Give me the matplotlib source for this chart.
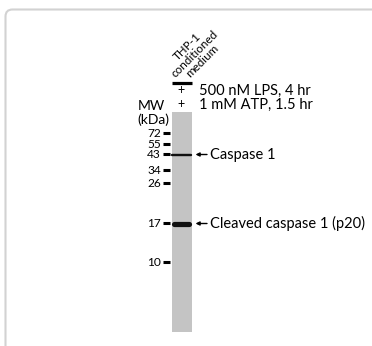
import matplotlib.pyplot as plt
from matplotlib.patches import Rectangle, FancyBboxPatch

mw_labels = ['72', '55', '43', '34', '26', '17', '10']
mw_y = [133, 144, 154, 170, 183, 223, 262]          # ladder positions (px from top)

band_names = ['Caspase 1', 'Cleaved caspase 1 (p20)']
band_y = [154.5, 223.5]
band_x0 = [172, 174]
band_x1 = [191, 189]
band_thick = [2.4, 5.2]

treat_labels = ['500 nM LPS, 4 hr', '1 mM ATP, 1.5 hr']
treat_signs = ['+', '+']
treat_y = [91, 105]

sample_label = 'THP-1\nconditioned\nmedium'

W, H = 372, 346
FONT = 'Lato'

fig = plt.figure(figsize=(W / 100, H / 100), dpi=100)
ax = fig.add_axes([0, 0, 1, 1])
ax.set_xlim(0, W)
ax.set_ylim(H, 0)
ax.axis('off')

# light rounded frame running off the right/bottom edge
frame = FancyBboxPatch((5.5, 9.5), W + 20, H + 20,
                       boxstyle='round,pad=0,rounding_size=7',
                       fc='white', ec='#d2d2d2', lw=1.5)
ax.add_patch(frame)

# lane
lane_x0, lane_x1 = 172, 192
ax.add_patch(Rectangle((lane_x0, 112), lane_x1 - lane_x0, 220, fc='#c4c4c4', ec='none'))

# bands
for y, x0, x1, t in zip(band_y, band_x0, band_x1, band_thick):
    ax.plot([x0, x1], [y, y], color='#111111', lw=t * 0.72, solid_capstyle='round')

# ladder ticks + labels
for lab, y in zip(mw_labels, mw_y):
    ax.plot([162.5, 170], [y, y], color='black', lw=2.2, solid_capstyle='butt')
    ax.text(161, y + 0.5, lab, ha='right', va='center', fontsize=8.6, family=FONT)

ax.text(151, 106, 'MW', ha='center', va='center', fontsize=10, family=FONT)
ax.text(153, 119.5, '(kDa)', ha='center', va='center', fontsize=10, family=FONT)

# band annotations with arrows
for name, y in zip(band_names, band_y):
    ax.annotate('', xy=(195.5, y), xytext=(207, y),
                arrowprops=dict(arrowstyle='-|>', color='black', lw=1.0,
                                mutation_scale=5.5, shrinkA=0, shrinkB=0))
    ax.text(210, y, name, ha='left', va='center', fontsize=10.5, family=FONT)

# treatment rows
ax.plot([lane_x0, lane_x1 - 0.5], [83, 83], color='black', lw=2.3, solid_capstyle='butt')
for lab, s, y in zip(treat_labels, treat_signs, treat_y):
    ax.text(181, y - 1, s, ha='center', va='center', fontsize=9, family=FONT)
    ax.text(199, y, lab, ha='left', va='center', fontsize=10.5, family=FONT)

# rotated sample name
ax.text(195, 54, sample_label, rotation=45, rotation_mode='anchor',
        ha='center', va='center', multialignment='center',
        fontsize=8.4, family=FONT, linespacing=0.92)

fig.savefig('out.png', dpi=100)
